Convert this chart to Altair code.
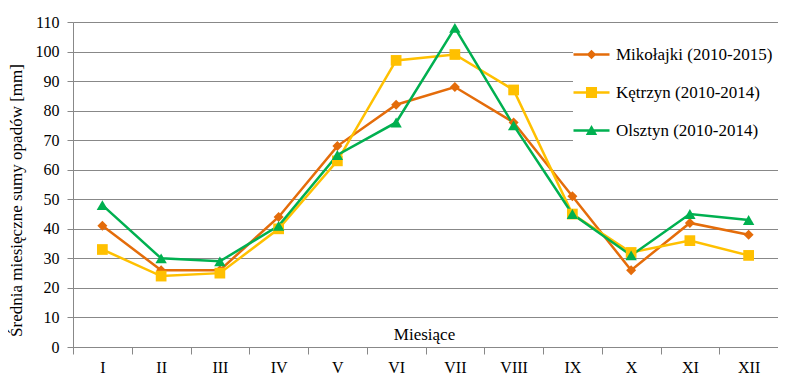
import altair as alt
import pandas as pd

months = ["I", "II", "III", "IV", "V", "VI", "VII", "VIII", "IX", "X", "XI", "XII"]
series_names = ["Mikołajki (2010-2015)", "Kętrzyn (2010-2014)", "Olsztyn (2010-2014)"]
mikolajki = [41, 26, 26, 44, 68, 82, 88, 76, 51, 26, 42, 38]
ketrzyn = [33, 24, 25, 40, 63, 97, 99, 87, 45, 32, 36, 31]
olsztyn = [48, 30, 29, 41, 65, 76, 108, 75, 45, 31, 45, 43]
colors = ["#E46C0A", "#FFC000", "#00B050"]
y_ticks = list(range(0, 111, 10))

rows = []
for name, vals in zip(series_names, [mikolajki, ketrzyn, olsztyn]):
    for m, v in zip(months, vals):
        rows.append({"month": m, "series": name, "value": v})
df = pd.DataFrame(rows)

FONT = "Liberation Serif"

x_enc = alt.X(
    "month:N",
    sort=months,
    scale=alt.Scale(type="band", paddingInner=0, paddingOuter=0),
    axis=alt.Axis(
        title="Miesiące",
        titleX=351, titleY=-13, titleBaseline="middle", titleAlign="center",
        titleFontSize=17, titleFontWeight="normal", titleFont=FONT, titleColor="#000",
        labelAngle=0, labelFontSize=16, labelFont=FONT, labelColor="#000", labelPadding=5,
        tickBand="extent", tickSize=7, tickColor="#888", domainColor="#888",
        grid=False,
    ),
)
y_enc = alt.Y(
    "value:Q",
    scale=alt.Scale(domain=[0, 110], nice=False),
    axis=alt.Axis(
        values=y_ticks,
        title="Średnia miesięczne sumy opadów [mm]",
        titleX=-57, titleY=178, titleAngle=270, titleBaseline="middle", titleAlign="center",
        titleFontSize=17, titleFontWeight="normal", titleFont=FONT, titleColor="#000",
        labelFontSize=16, labelFont=FONT, labelColor="#000", labelPadding=8,
        tickSize=6, tickColor="#888", domainColor="#888",
        grid=True, gridColor="#888", gridWidth=1,
    ),
)

color_scale = alt.Scale(domain=series_names, range=colors)
base = alt.Chart(df)

lines = base.mark_line(strokeWidth=2.5).encode(
    x=x_enc, y=y_enc,
    color=alt.Color("series:N", scale=color_scale, legend=None),
)
points = base.mark_point(filled=True, opacity=1).encode(
    x=x_enc, y=y_enc,
    color=alt.Color("series:N", scale=color_scale, legend=None),
    shape=alt.Shape("series:N", scale=alt.Scale(domain=series_names,
                                                range=["diamond", "square", "triangle-up"]),
                    legend=None),
    size=alt.Size("series:N", scale=alt.Scale(domain=series_names, range=[100, 130, 140]),
                  legend=None),
)

leg_paths = [
    "M-3,-0.21H3V0.21H-3Z M0,-0.8L0.8,0L0,0.8L-0.8,0Z",
    "M-3,-0.21H3V0.21H-3Z M-0.92,-0.92H0.92V0.92H-0.92Z",
    "M-3,-0.21H3V0.21H-3Z M0,-0.9L0.95,0.75H-0.95Z",
]
leg = alt.Legend(title=None, orient="none", legendX=500, legendY=14,
                 fillColor="white", padding=10,
                 labelFont=FONT, labelFontSize=17, labelColor="#000",
                 labelOffset=16, rowPadding=20, symbolSize=144,
                 symbolStrokeWidth=0)
legend_layer = base.transform_filter("false").mark_point(filled=True, opacity=1).encode(
    x=x_enc, y=y_enc,
    color=alt.Color("series:N", scale=color_scale, legend=leg),
    shape=alt.Shape("series:N", scale=alt.Scale(domain=series_names, range=leg_paths),
                    legend=leg),
)

chart = alt.layer(lines, points, legend_layer).resolve_scale(
    color="independent", shape="independent"
).properties(
    width=705, height=325,
    autosize=alt.AutoSizeParams(type="none"),
    padding={"left": 65, "top": 14, "right": 0, "bottom": 30},
).configure_view(stroke=None).configure(
    background="white", font=FONT
).configure_axis(labelFont=FONT, titleFont=FONT).configure_legend(labelFont=FONT)

chart.save("out.html", embed_options={"renderer": "svg", "actions": False})
